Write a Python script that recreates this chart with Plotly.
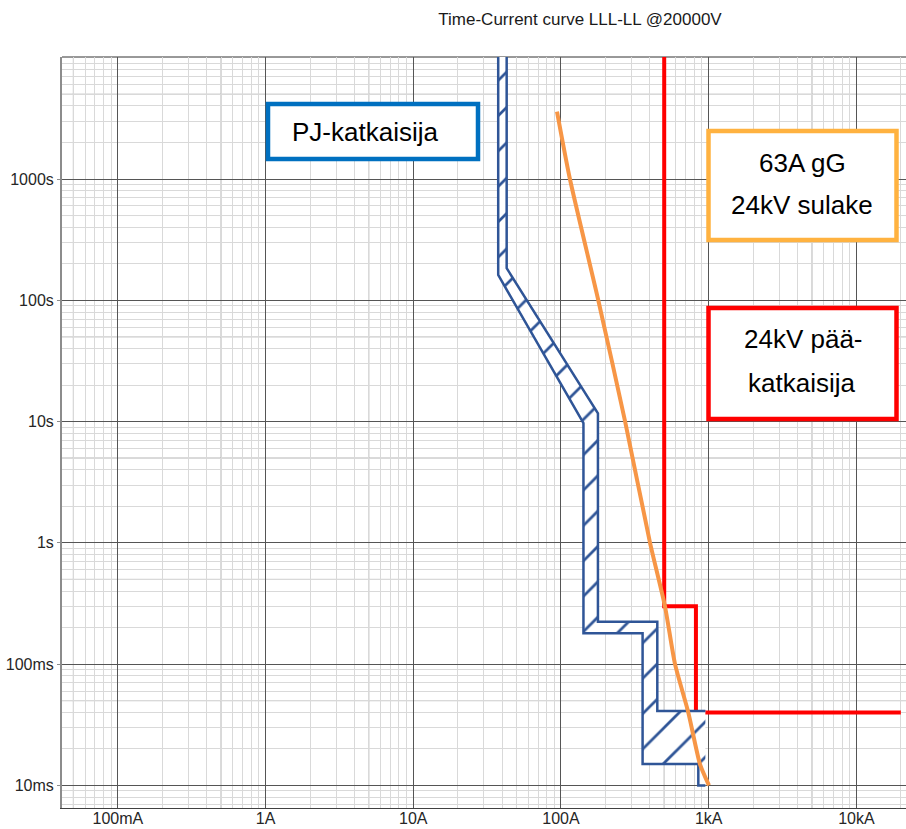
import plotly.graph_objects as go

# Axis decades and their labels
x_tick_vals = [0.1, 1, 10, 100, 1000, 10000]
x_tick_text = ["100mA", "1A", "10A", "100A", "1kA", "10kA"]
y_tick_vals = [0.01, 0.1, 1, 10, 100, 1000]
y_tick_text = ["10ms", "100ms", "1s", "10s", "100s", "1000s"]

# PJ-katkaisija tolerance band (current in A, time in s)
pj_upper_current = [42.9, 42.9, 178, 178, 449, 449, 950]
pj_upper_time = [20000, 184, 11.7, 0.224, 0.224, 0.041, 0.041]
pj_lower_current = [37.6, 37.6, 142, 142, 357, 357, 851, 851, 950]
pj_lower_time = [20000, 162, 9.7, 0.18, 0.18, 0.015, 0.015, 0.01, 0.01]

# 63A gG 24kV fuse melting curve
fuse_current = [94, 115, 179, 272, 401, 506, 592, 728, 873, 1005]
fuse_time = [3600, 1000, 100, 10, 1, 0.3, 0.1, 0.04, 0.015, 0.01]

# 24kV main breaker characteristic
main_current = [500, 500, 820, 820, 20000]
main_time = [20000, 0.3, 0.3, 0.04, 0.04]

BLUE = "#2F5597"
ORANGE = "#F79646"
RED = "#FF0000"

W, H = 906, 829
L, R, T, B = 62, 0, 57, 21
PW, PH = W - L - R, H - T - B


def px(x):
    return (x - L) / PW


def py(y):
    return (H - B - y) / PH


fig = go.Figure()

# main breaker
fig.add_trace(go.Scatter(x=main_current, y=main_time, mode="lines",
                         line=dict(color=RED, width=4), hoverinfo="skip"))

# hatched band
band_x = pj_upper_current + pj_lower_current[::-1]
band_y = pj_upper_time + pj_lower_time[::-1]
fig.add_trace(go.Scatter(x=band_x, y=band_y, mode="lines", fill="toself",
                         fillcolor="white",
                         fillpattern=dict(shape="/", fgcolor=BLUE, bgcolor="white",
                                          fgopacity=1, size=25, solidity=0.11),
                         line=dict(width=0), hoverinfo="skip"))
fig.add_trace(go.Scatter(x=pj_upper_current, y=pj_upper_time, mode="lines",
                         line=dict(color=BLUE, width=2.5), hoverinfo="skip"))
fig.add_trace(go.Scatter(x=pj_lower_current, y=pj_lower_time, mode="lines",
                         line=dict(color=BLUE, width=2.5), hoverinfo="skip"))

# fuse
fig.add_trace(go.Scatter(x=fuse_current, y=fuse_time, mode="lines",
                         line=dict(color=ORANGE, width=4, shape="spline", smoothing=0.6),
                         hoverinfo="skip"))

minor_x = [m * 10.0 ** d for d in range(-2, 5) for m in range(2, 10)]
minor_y = [m * 10.0 ** d for d in range(-3, 5) for m in range(2, 10)]

tickfont = dict(size=16, color="#262626", family="Liberation Sans, Arial, sans-serif")

fig.update_xaxes(type="log", range=[-1.378, 4.336], tickvals=x_tick_vals,
                 ticktext=x_tick_text, showgrid=True, gridcolor="#555555", gridwidth=1,
                 minor=dict(tickvals=minor_x, showgrid=True, gridcolor="#d9d9d9",
                            gridwidth=1, ticks=""),
                 showline=True, linecolor="#404040", linewidth=1, ticks="",
                 ticklabelstandoff=-4,
                 zeroline=False, tickfont=tickfont, automargin=False)
fig.update_yaxes(type="log", range=[-2.186, 4.006], tickvals=y_tick_vals,
                 ticktext=y_tick_text, showgrid=True, gridcolor="#555555", gridwidth=1,
                 minor=dict(tickvals=minor_y, showgrid=True, gridcolor="#d9d9d9",
                            gridwidth=1, ticks=""),
                 showline=True, linecolor="#8c8c8c", linewidth=2, ticks="outside",
                 ticklen=3, tickcolor="#8c8c8c",
                 zeroline=False, tickfont=tickfont, automargin=False)

shapes = []
# half-decade grid lines
for d in range(-2, 5):
    v = 5 * 10.0 ** d
    shapes.append(dict(type="line", xref="x", yref="paper", x0=v, x1=v, y0=0, y1=1,
                       line=dict(color="#a6a6a6", width=1), layer="between"))
    shapes.append(dict(type="line", xref="paper", yref="y", x0=0, x1=1, y0=v, y1=v,
                       line=dict(color="#a6a6a6", width=1), layer="between"))
# top frame line
shapes.append(dict(type="line", xref="paper", yref="paper", x0=0, x1=1, y0=1, y1=1,
                   line=dict(color="#333333", width=1), layer="between"))

# label boxes
boxes = [
    (268, 478, 104, 159, "#0070C0"),
    (708.5, 896.5, 131, 240, "#FFB240"),
    (708.5, 896.5, 308, 419, RED),
]
for x0, x1, y0, y1, c in boxes:
    shapes.append(dict(type="rect", xref="paper", yref="paper",
                       x0=px(x0), x1=px(x1), y0=py(y1), y1=py(y0),
                       line=dict(color=c, width=4.5), fillcolor="white", layer="above"))

labels = [
    ("PJ-katkaisija", 365, 132),
    ("63A gG", 802, 163),
    ("24kV sulake", 802, 205),
    ("24kV pää-", 803, 339),
    ("katkaisija", 801, 383),
]
annotations = [dict(text=t, xref="paper", yref="paper", x=px(x), y=py(y),
                    xanchor="center", yanchor="middle", showarrow=False,
                    font=dict(size=26, color="#000000",
                              family="Liberation Sans, Arial, sans-serif"))
               for t, x, y in labels]

fig.update_layout(
    width=W, height=H,
    margin=dict(l=L, r=R, t=T, b=B, autoexpand=False),
    paper_bgcolor="white", plot_bgcolor="white",
    showlegend=False,
    title=dict(text="Time-Current curve LLL-LL @20000V", xref="container",
               yref="container", x=580 / W, y=1 - 19 / H, xanchor="center",
               yanchor="middle",
               font=dict(size=17, color="#1a1a1a",
                         family="Liberation Sans, Arial, sans-serif")),
    shapes=shapes, annotations=annotations,
)

fig.write_html("out.html")
